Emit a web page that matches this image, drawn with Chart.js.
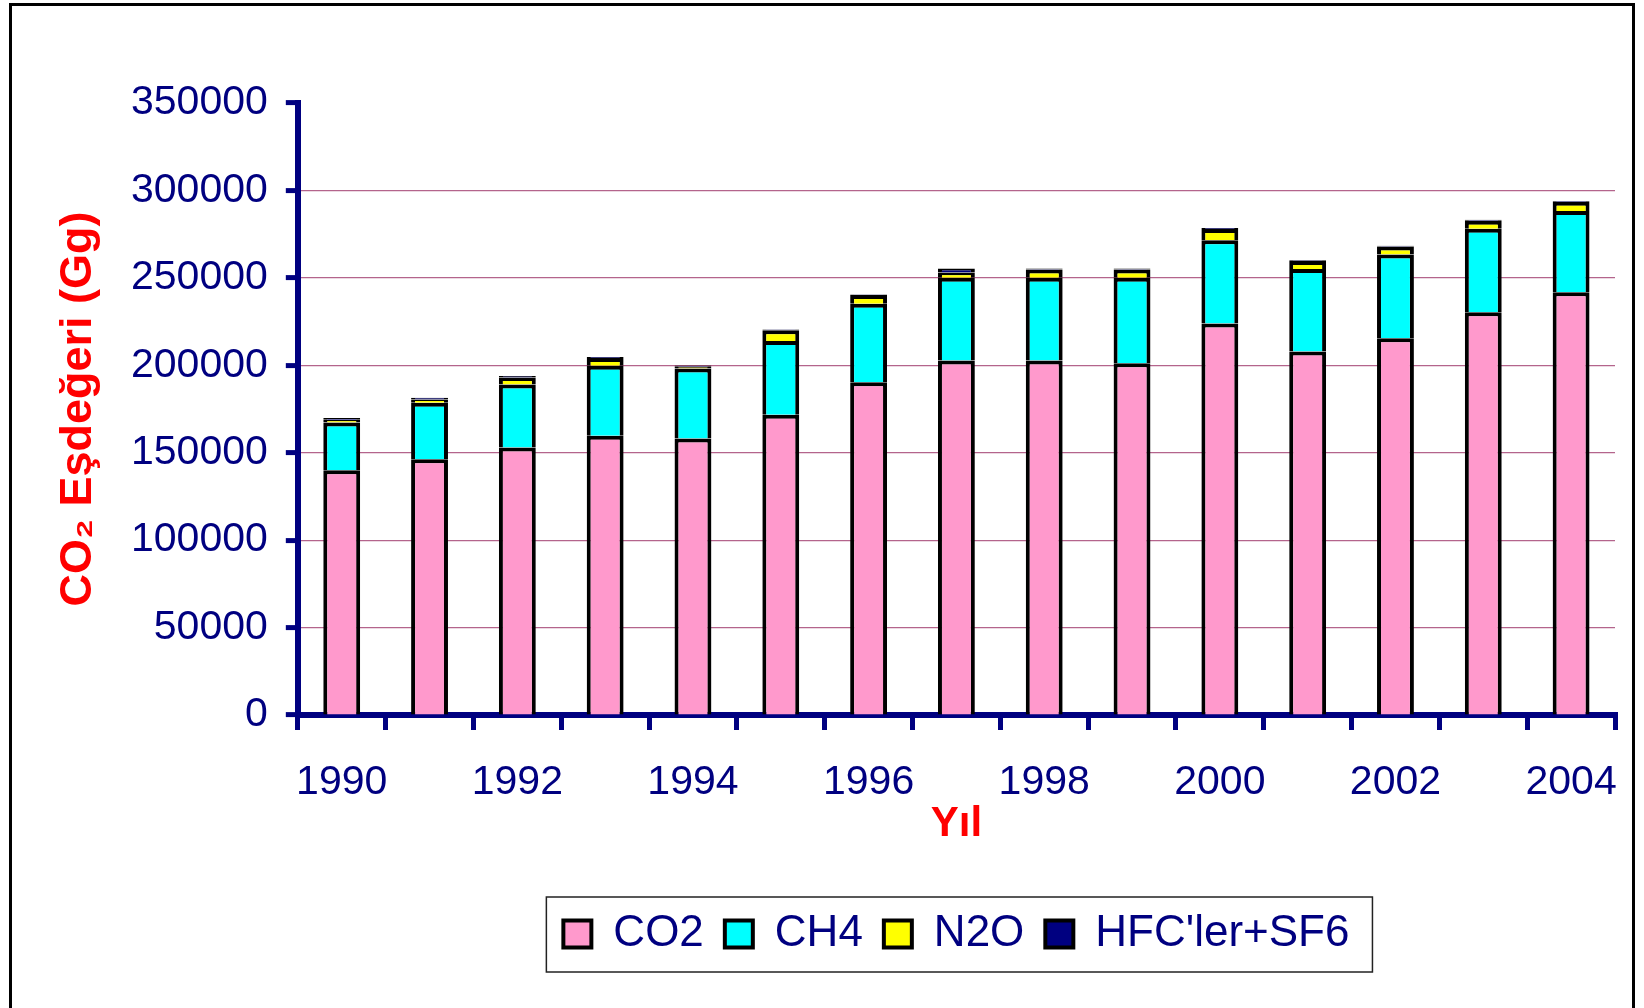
<!DOCTYPE html>
<html>
<head>
<meta charset="utf-8">
<script src="https://cdn.jsdelivr.net/npm/chart.js@4.4.1/dist/chart.umd.min.js"></script>
<style>
    body { margin: 0; background: #fff; }
    #wrap { position: relative; width: 1644px; height: 1008px; overflow: hidden; }
    #frame { position: absolute; left: 9px; top: 3px; width: 1626px; height: 1040px; border: 3px solid #000; box-sizing: border-box; }
    #chart { position: absolute; left: 0; top: 0; }
</style>
</head>
<body>
<div id="wrap">
    <div id="frame"></div>
    <canvas id="chart" width="1644" height="1008"></canvas>
</div>
<script>
// Values (Gg CO2 equivalent)
const years = ['1990', '1991', '1992', '1993', '1994', '1995', '1996', '1997', '1998', '1999', '2000', '2001', '2002', '2003', '2004'];
const co2 = [140000, 146300, 153000, 159700, 158100, 171700, 190300, 202800, 202800, 201100, 223900, 207900, 215400, 230400, 241800];
const ch4 = [27300, 32300, 36000, 40000, 40000, 42200, 44900, 47200, 47200, 48900, 47600, 47200, 47900, 47700, 46400];
const n2o = [1500, 1900, 4000, 4500, 1000, 6200, 5000, 3000, 4800, 4800, 6500, 4500, 4600, 4600, 5300];
const hfc = [1000, 1000, 900, 500, 800, 400, 300, 2300, 500, 500, 500, 500, 500, 500, 500];
const yTicks = [0, 50000, 100000, 150000, 200000, 250000, 300000, 350000];

const NAVY = '#000080';
const FONT = '"Liberation Sans", Arial, "DejaVu Sans", sans-serif';

// draws the thin box around the legend
const legendBox = {
    id: 'legendBox',
    afterDraw(chart) {
        const hb = chart.legend.legendHitBoxes;
        if (!hb || !hb.length) return;
        const last = hb[hb.length - 1];
        const cy = hb[0].top + hb[0].height / 2;
        const ctx = chart.ctx;
        ctx.save();
        ctx.strokeStyle = '#222';
        ctx.lineWidth = 1.5;
        ctx.strokeRect(hb[0].left - 17, cy - 37, last.left + last.width + 23 - (hb[0].left - 17), 75);
        ctx.restore();
    }
};

function makeSet(label, data, color) {
    return {
        label: label,
        data: data,
        backgroundColor: color,
        borderColor: '#000',
        borderWidth: 4,
        barPercentage: 0.42,
        categoryPercentage: 1
    };
}

new Chart(document.getElementById('chart'), {
    type: 'bar',
    data: {
        labels: years,
        datasets: [
            makeSet('CO2', co2, '#FF99CC'),
            makeSet('CH4', ch4, '#00FFFF'),
            makeSet('N2O', n2o, '#FFFF00'),
            makeSet("HFC'ler+SF6", hfc, NAVY)
        ]
    },
    options: {
        responsive: false,
        animation: false,
        layout: { padding: { left: 52, right: 29, top: 103, bottom: 42 } },
        plugins: {
            tooltip: { enabled: false },
            legend: {
                position: 'bottom',
                fullSize: false,
                labels: {
                    color: NAVY,
                    font: { family: FONT, size: 44 },
                    boxWidth: 28,
                    boxHeight: 27,
                    padding: 21
                }
            }
        },
        scales: {
            x: {
                stacked: true,
                afterFit: function(scale) {
                    // let the last year label run to the frame like in the original
                    scale.paddingRight = 0;
                },
                border: { color: NAVY, width: 6 },
                grid: {
                    offset: true,
                    drawOnChartArea: false,
                    color: NAVY,
                    lineWidth: 5,
                    tickLength: 15
                },
                ticks: {
                    autoSkip: false,
                    maxRotation: 0,
                    padding: 32,
                    color: NAVY,
                    font: { family: FONT, size: 41, lineHeight: 1 },
                    callback: function(value, index) {
                        return index % 2 === 0 ? years[index] : '';
                    }
                },
                title: {
                    display: true,
                    text: 'Yıl',
                    color: '#FF0000',
                    font: { family: FONT, size: 42, weight: 'bold', lineHeight: 1 },
                    padding: { top: -32, bottom: 46 }
                }
            },
            y: {
                stacked: true,
                min: 0,
                max: 350000,
                border: { color: NAVY, width: 6 },
                grid: {
                    color: function(ctx) {
                        const v = ctx.tick ? ctx.tick.value : 0;
                        return (v === 0 || v === 350000) ? 'rgba(0,0,0,0)' : 'rgb(180,100,140)';
                    },
                    lineWidth: 1.2,
                    tickColor: NAVY,
                    tickWidth: 5,
                    tickLength: 12
                },
                afterBuildTicks: function(axis) {
                    axis.ticks = yTicks.map(v => ({ value: v }));
                },
                ticks: {
                    padding: 18,
                    color: NAVY,
                    font: { family: FONT, size: 41 },
                    callback: function(value) {
                        return String(value);
                    }
                },
                title: {
                    display: true,
                    text: 'CO₂ Eşdeğeri (Gg)',
                    color: '#FF0000',
                    font: { family: FONT, size: 45, weight: 'bold' },
                    padding: { top: 0, bottom: 7 }
                }
            }
        }
    },
    plugins: [legendBox]
});
</script>
</body>
</html>
